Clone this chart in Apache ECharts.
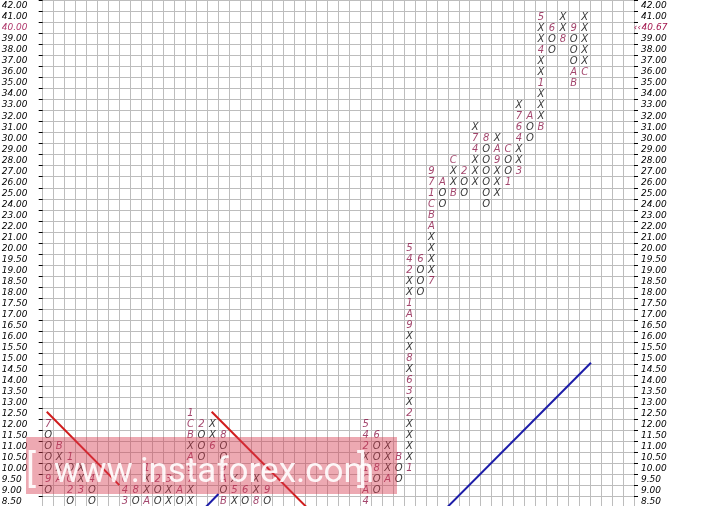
<!DOCTYPE html>
<html><head><meta charset="utf-8">
<script src="https://cdn.jsdelivr.net/npm/echarts@6/dist/echarts.min.js"></script>
<style>html,body{margin:0;padding:0;background:#fff}#c{width:702px;height:506px}</style>
</head><body><div id="c"></div>
<script>
// Row labels (box prices), top to bottom
const priceLabels = ['42.00','41.00','40.00','39.00','38.00','37.00','36.00','35.00','34.00','33.00','32.00','31.00','30.00','29.00','28.00','27.00','26.00','25.00','24.00','23.00','22.00','21.00','20.00','19.50','19.00','18.50','18.00','17.50','17.00','16.50','16.00','15.50','15.00','14.50','14.00','13.50','13.00','12.50','12.00','11.50','11.00','10.50','10.00','9.50','9.00','8.50'];
// Point & figure columns: column number, top box price, boxes from top to bottom
const colIndex = [0,1,2,3,4,7,8,9,10,11,12,13,14,15,16,17,18,19,20,29,30,31,32,33,34,35,36,37,38,39,40,41,42,43,44,45,46,47,48,49];
const colTop = ['12.00','11.00','10.50','10.00','9.50','9.50','9.00','10.00','9.50','9.50','9.00','12.50','12.00','12.00','11.50','9.50','9.00','9.50','9.00','12.00','11.50','11.00','10.50','20.00','19.50','27.00','26.00','28.00','27.00','31.00','30.00','30.00','29.00','33.00','32.00','41.00','40.00','41.00','40.00','41.00'];
const colBoxes = ['7OOOO9O','BXXA','1OC2O','XX3','4OO','643','8O','1XXA','2OO','3XX','AO','1CBXA97XX','2OOO','XX6','8OO9AOB','X5X','6O','XX8','9O','542X1CA4','6OO8OO','XXXA','BOO','542XX1A9XX8X63X2XXXX1','6OOO','971CBAXXXX7','AOO','CXXB','2OO','X74XXX','8OOOOOO','XA9XXX','COO1','X764XX3','AOO','5XX4XX1XXXB','6OO','XX8','9OOOAB','XXXXXC'];
// Trend lines in box units [column, row-from-top]
const trendRed1 = [[0.37, 37.33], [7.0, 44.0]];
const trendRed2 = [[15.43, 37.33], [24.1, 46.0]];
const trendBlue1 = [[14.88, 46.0], [16.05, 44.8]];
const trendBlue2 = [[36.95, 46.0], [50.07, 32.88]];
const currentLabel = '40.00';
const lastPrice = '40.67';
const numColumns = 54;

const nRows = priceLabels.length;
const curRow = priceLabels.indexOf(currentLabel);
const xoData = [], monthData = [];
colIndex.forEach((c, i) => {
  const top = priceLabels.indexOf(colTop[i]);
  colBoxes[i].split('').forEach((ch, j) => {
    const pt = [c + 0.5, top + j + 0.5, ch];
    (ch === 'X' || ch === 'O' ? xoData : monthData).push(pt);
  });
});
const rowCenters = priceLabels.map((_, k) => k + 0.5);
const FONT = 'DejaVu Sans';
const lab = {fontSize: 9, fontStyle: 'italic', fontFamily: FONT};

const chart = echarts.init(document.getElementById('c'), null, {renderer: 'canvas'});
const markLabel = (color) => ({
  show: true, position: 'inside', formatter: p => p.value[2],
  color: color, fontSize: 10, fontStyle: 'italic', fontFamily: FONT
});
const lineSeries = (data, color) => ({
  type: 'line', data: data, symbol: 'none', silent: true, clip: true, z: 4,
  lineStyle: {color: color, width: 2}, emphasis: {disabled: true}
});
chart.setOption({
  animation: false,
  backgroundColor: '#fff',
  grid: {left: 42.7, top: 0.5, width: 591.3, height: 506.7, containLabel: false, outerBoundsMode: 'none'},
  xAxis: {
    type: 'value', min: 0, max: numColumns, interval: 1,
    axisLine: {show: false}, axisTick: {show: false}, axisLabel: {show: false},
    splitLine: {show: true, lineStyle: {color: '#bdbdbd', width: 1}}
  },
  yAxis: [
    {
      type: 'value', min: 0, max: nRows, interval: 1, inverse: true, position: 'left',
      axisLine: {show: false},
      axisTick: {show: true, length: 4, lineStyle: {color: '#000'}},
      splitLine: {show: true, lineStyle: {color: '#bdbdbd', width: 1}},
      axisLabel: Object.assign({
        customValues: rowCenters, align: 'left', margin: 41, color: '#000',
        formatter: v => {
          const k = Math.floor(v);
          return k === curRow ? '{cur|' + priceLabels[k] + '}' : priceLabels[k];
        },
        rich: {cur: Object.assign({color: '#b0396c'}, lab)}
      }, lab)
    },
    {
      type: 'value', min: 0, max: nRows, interval: 1, inverse: true, position: 'right',
      axisLine: {show: false},
      axisTick: {show: true, length: 4, lineStyle: {color: '#000'}},
      splitLine: {show: false},
      axisLabel: Object.assign({
        customValues: rowCenters, align: 'right', margin: 34, color: '#000',
        formatter: v => {
          const k = Math.floor(v);
          return k === curRow ? '{arr|‹‹}{cnum|' + lastPrice + '}' : '{num|' + priceLabels[k] + '}';
        },
        rich: {
          num: Object.assign({width: 27, align: 'left', color: '#000'}, lab),
          cnum: Object.assign({width: 27, align: 'left', color: '#a3184f'}, lab),
          arr: Object.assign({color: '#a3184f'}, lab)
        }
      }, lab)
    }
  ],
  series: [
    {type: 'scatter', data: xoData, symbolSize: 1, itemStyle: {color: 'rgba(0,0,0,0)'},
     label: markLabel('#000'), silent: true, z: 3, emphasis: {disabled: true}},
    {type: 'scatter', data: monthData, symbolSize: 1, itemStyle: {color: 'rgba(0,0,0,0)'},
     label: markLabel('#8c1848'), silent: true, z: 3, emphasis: {disabled: true}},
    lineSeries(trendRed1, '#d01c1c'),
    lineSeries(trendRed2, '#d01c1c'),
    lineSeries(trendBlue1, '#1c1ca8'),
    lineSeries(trendBlue2, '#1c1ca8')
  ],
  graphic: [
    {type: 'rect', silent: true, z: 100, shape: {x: 26, y: 437, width: 371, height: 57},
     style: {fill: 'rgba(214,60,80,0.44)'}},
    {type: 'text', silent: true, z: 101, x: 26, y: 472,
     style: {text: '[', font: '38px Roboto', fill: 'rgba(255,255,255,0.9)', align: 'left', verticalAlign: 'middle'}},
    {type: 'text', silent: true, z: 101, x: 54, y: 473,
     style: {text: 'www.instaforex.com', font: '35px Roboto', fill: 'rgba(255,255,255,0.9)', align: 'left', verticalAlign: 'middle'}},
    {type: 'text', silent: true, z: 101, x: 357, y: 472,
     style: {text: ']', font: '38px Roboto', fill: 'rgba(255,255,255,0.9)', align: 'left', verticalAlign: 'middle'}}
  ]
});
</script></body></html>
